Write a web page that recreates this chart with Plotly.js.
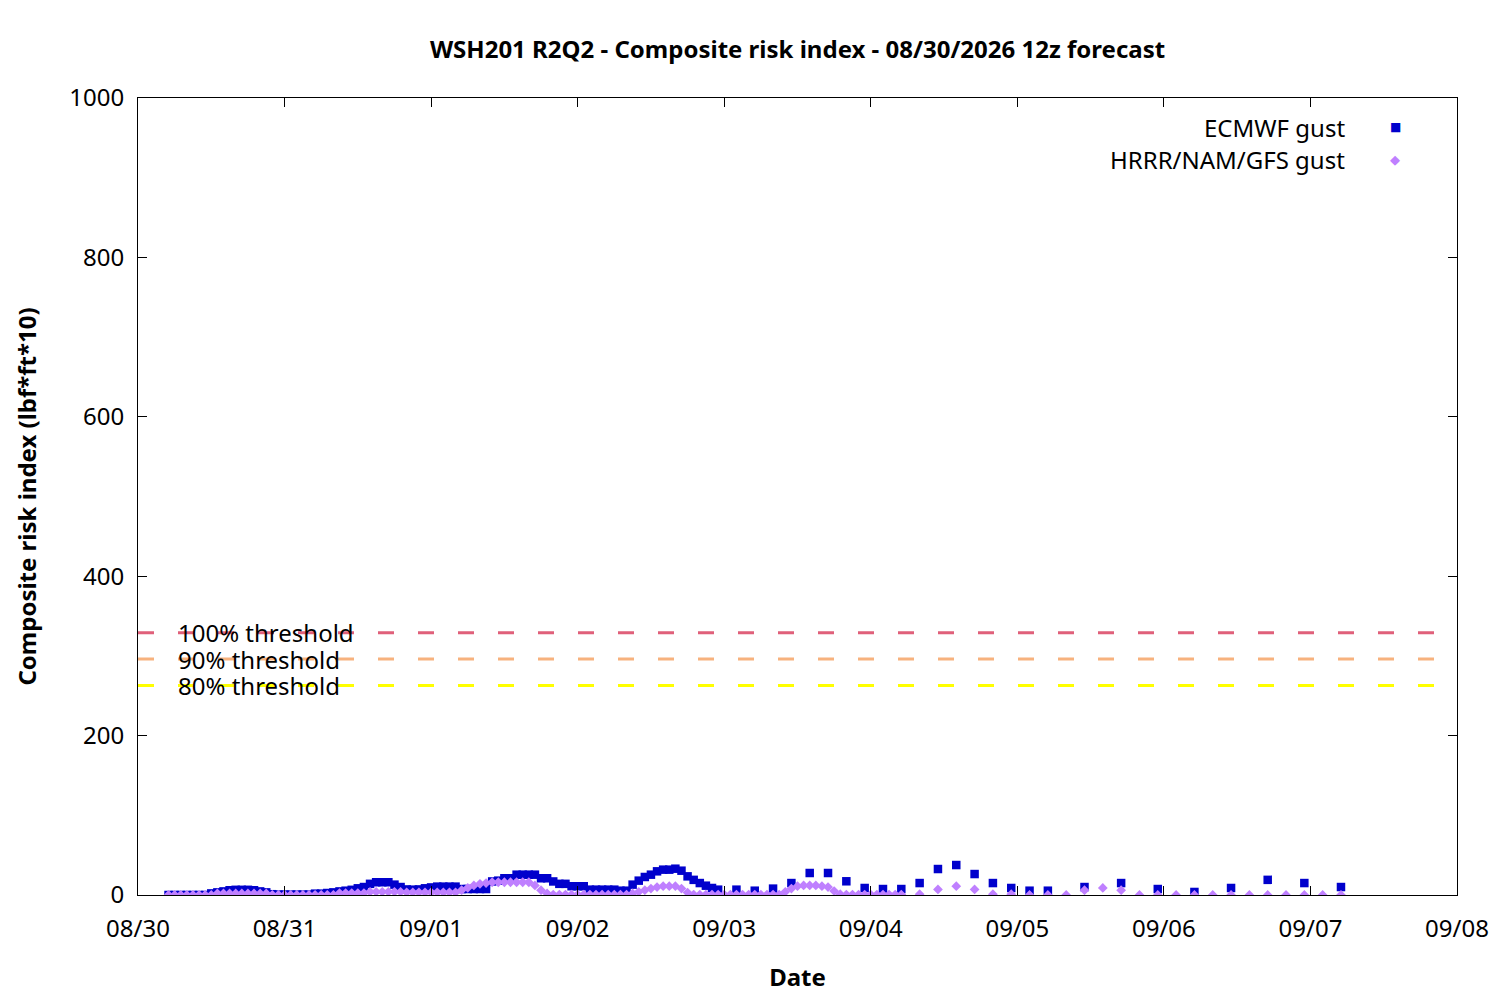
<!DOCTYPE html>
<html>
<head>
<meta charset="utf-8">
<script src="https://cdn.plot.ly/plotly-3.0.1.min.js"></script>
<style>html,body{margin:0;padding:0;background:#fff;}#chart{width:1500px;height:1000px;}</style>
</head>
<body>
<div id="chart"></div>
<script>
// ---- Data (hours after 08/30/2026 00:00) ----
const ecmwfHourlyStart = 5;   // hourly values from hour 5 to hour 95
const ecmwfHourly = [
  0,0,0,0,0,0,0,
  2,3.3,4.5,6,6.5,6.5,6.5,6,4.5,3.3,1,
  0.5,0.5,0.5,0.5,0.5,0.5,
  1.7,1.7,2.5,3.3,4.5,5.4,6.5,8.4,10,14,16,16,16,13,10,7,6.7,7,8.4,9.5,10.5,10.5,10.5,10.5,
  7.5,7.5,7.5,7.5,7.5,
  17,18,21,21,25.5,25.5,25.5,25.5,21,21,17,14,14,11,11,11,6.7,6.7,6.7,6.7,6.7,5.4,
  5.4,13,18,22.6,25.5,29.7,31.8,31.8,33,30.5,23.4,19,15,11.7,8.8,6.7
];
const ecmwf3hStart = 98;      // 3-hourly values from hour 98 to hour 149
const ecmwf3h = [6.7,5.4,8,15,27.6,27.6,17.2,8.8,7.5,7.5,15,32.6,37.6,26.3,15,8.8,5.4,5.4];
const ecmwf6hStart = 155;     // 6-hourly values from hour 155 to hour 197
const ecmwf6h = [10,15,7.5,3.8,8.8,19,15,10];

const hrrrHourlyStart = 5;    // hourly values from hour 5 to hour 125
const hrrrHourly = [
  0,0,0,0,0,0,0,0,
  2,2,2,2,2,2,2,2,2,
  0.3,0.3,0.3,0.3,0.3,0.3,0.3,0.3,0.3,0.3,0.3,
  2.5,2.5,2.5,2.5,2.5,
  4,4,4,4,4,4,
  3.3,3.3,3.3,3.3,3.3,3.3,3.3,3.3,
  3.3,6,9,12,14,15,16,16,16,16,16,16,16,12,6,2,
  0.5,0.5,0.5,0.5,0.5,0.5,0.5,0.5,0.5,0.5,0.5,0.5,0.5,
  2,4,6,8,10,11,11,11,8,3,
  0.5,0.5,0.5,0.5,0.5,0.5,0.5,0.5,0.5,0.5,0.5,0.5,0.5,0.5,0.5,
  4,8,11,12,12,12,11,10,5,1,
  0.5,0.5,0.5,0.5,0.5,0.5,0.5,0.5,0.5,0.5
];
const hrrr3hStart = 128;      // 3-hourly values from hour 128 to hour 197
const hrrr3h = [1,7,11,7,1,1,0,0,0,6,8.8,6,0,0,0,0,0,0,0,0,0,0,0,0];

const thresholdValues = [329, 296, 263];
const thresholdLabels = ['100% threshold', '90% threshold', '80% threshold'];
const thresholdColors = ['#e0607a', '#f7b27e', '#ffff00'];

const xTickStart = '2026-08-30';
const xTickEnd = '2026-09-08';
const yTickValues = [0, 200, 400, 600, 800, 1000];

// ---- Helpers ----
const base = Date.UTC(2026, 7, 30, 0, 0, 0);
function toDate(h) {
  return new Date(base + h * 3600000).toISOString().slice(0, 19).replace('T', ' ');
}
function series(start, step, vals) {
  return { x: vals.map((v, i) => toDate(start + i * step)), y: vals.slice() };
}
function concat(...parts) {
  return { x: [].concat(...parts.map(p => p.x)), y: [].concat(...parts.map(p => p.y)) };
}

const ec = concat(series(ecmwfHourlyStart, 1, ecmwfHourly), series(ecmwf3hStart, 3, ecmwf3h), series(ecmwf6hStart, 6, ecmwf6h));
const hr = concat(series(hrrrHourlyStart, 1, hrrrHourly), series(hrrr3hStart, 3, hrrr3h));

const FONT = '"Noto Sans", "Open Sans", sans-serif';
const FS = 24;
const blue = '#0000cc';
const purple = '#bf80ff';

const traces = [
  { type: 'scatter', mode: 'markers', name: 'ECMWF gust', x: ec.x, y: ec.y,
    marker: { symbol: 'square', size: 8.5, color: blue }, cliponaxis: true },
  { type: 'scatter', mode: 'markers', name: 'HRRR/NAM/GFS gust', x: hr.x, y: hr.y,
    marker: { symbol: 'diamond', size: 7.5, color: purple }, cliponaxis: true }
];

const shapes = thresholdValues.map((v, i) => ({
  type: 'line', xref: 'paper', x0: 0, x1: 0.99, yref: 'y', y0: v, y1: v,
  line: { color: thresholdColors[i], width: 3, dash: '16px,24px' }, layer: 'above'
}));

const annotations = thresholdValues.map((v, i) => ({
  xref: 'paper', x: 0.0285, yref: 'y', y: v, xanchor: 'left', yanchor: 'middle',
  text: thresholdLabels[i], showarrow: false, font: { family: FONT, size: FS, color: '#000' }
}));
// legend (gnuplot style: text right-aligned, symbol to the right)
annotations.push(
  { xref: 'paper', yref: 'paper', x: 0.9166, y: 0.963, xanchor: 'right', yanchor: 'middle',
    text: 'ECMWF gust', showarrow: false, font: { family: FONT, size: FS, color: '#000' } },
  { xref: 'paper', yref: 'paper', x: 0.9166, y: 0.923, xanchor: 'right', yanchor: 'middle',
    text: 'HRRR/NAM/GFS gust', showarrow: false, font: { family: FONT, size: FS, color: '#000' } },
  { xref: 'paper', yref: 'paper', x: 0.9530, y: 0.963, xanchor: 'center', yanchor: 'middle',
    text: '■', showarrow: false, font: { family: 'DejaVu Sans', size: 12, color: blue } },
  { xref: 'paper', yref: 'paper', x: 0.9530, y: 0.923, xanchor: 'center', yanchor: 'middle',
    text: '◆', showarrow: false, font: { family: 'DejaVu Sans', size: 13, color: purple } }
);

const layout = {
  width: 1500, height: 1000,
  margin: { l: 138, r: 43, t: 98, b: 105 },
  paper_bgcolor: '#fff', plot_bgcolor: '#fff',
  showlegend: false,
  font: { family: FONT, size: FS, color: '#000' },
  title: { text: '<b>WSH201 R2Q2 - Composite risk index - 08/30/2026 12z forecast</b>',
           x: 0.5, xref: 'paper', y: 0.95, yref: 'container', yanchor: 'middle',
           font: { family: FONT, size: FS, color: '#000' } },
  xaxis: {
    type: 'date', range: [xTickStart, xTickEnd], tick0: xTickStart, dtick: 86400000,
    tickformat: '%m/%d', ticks: 'inside', ticklen: 9, tickcolor: '#000', tickwidth: 1,
    mirror: 'allticks', showline: true, linecolor: '#000', linewidth: 1,
    showgrid: false, zeroline: false, ticklabelstandoff: 12,
    tickfont: { family: FONT, size: FS, color: '#000' },
    title: { text: '<b>Date</b>', standoff: 26, font: { family: FONT, size: FS, color: '#000' } }
  },
  yaxis: {
    range: [0, 1000], tickvals: yTickValues, ticks: 'inside', ticklen: 9, tickcolor: '#000', tickwidth: 1,
    mirror: 'allticks', showline: true, linecolor: '#000', linewidth: 1,
    showgrid: false, zeroline: false, ticklabelstandoff: 8,
    tickfont: { family: FONT, size: FS, color: '#000' },
    title: { text: '<b>Composite risk index (lbf*ft*10)</b>', standoff: 25, font: { family: FONT, size: FS, color: '#000' } }
  },
  shapes: shapes,
  annotations: annotations
};

Plotly.newPlot('chart', traces, layout, { staticPlot: true, displayModeBar: false });
</script>
</body>
</html>
